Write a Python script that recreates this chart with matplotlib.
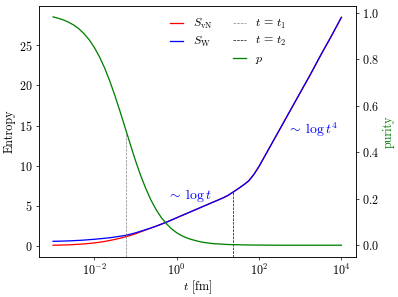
import numpy as np
import matplotlib
matplotlib.use("Agg")
import matplotlib.pyplot as plt
from matplotlib.lines import Line2D
from matplotlib.ticker import NullLocator

plt.rcParams.update({
    "font.family": "serif",
    "font.serif": ["cmr10"],
    "mathtext.fontset": "cm",
    "axes.formatter.use_mathtext": True,
    "font.size": 14,
})

# log10 of time in fm
log_t = [-3, -2.875, -2.75, -2.625, -2.5, -2.375, -2.25, -2.125, -2,
         -1.875, -1.75, -1.625, -1.5, -1.375, -1.25, -1.125, -1,
         -0.875, -0.75, -0.625, -0.5, -0.375, -0.25, -0.125, 0,
         0.125, 0.25, 0.375, 0.5, 0.625, 0.75, 0.875, 1,
         1.125, 1.25, 1.375, 1.5, 1.625, 1.75, 1.875, 2,
         2.25, 2.5, 2.75, 3, 3.25, 3.5, 3.75, 4]
S_W = [0.57, 0.58, 0.60, 0.62, 0.65, 0.68, 0.72, 0.77, 0.82,
       0.88, 0.94, 1.01, 1.10, 1.20, 1.30, 1.45, 1.62,
       1.82, 2.02, 2.23, 2.45, 2.70, 2.95, 3.22, 3.50,
       3.78, 4.05, 4.33, 4.60, 4.88, 5.15, 5.43, 5.70,
       5.98, 6.30, 6.72, 7.15, 7.60, 8.10, 8.90, 9.90,
       12.2, 14.5, 16.8, 19.1, 21.4, 23.8, 26.1, 28.5]
S_vN = [0.08, 0.09, 0.11, 0.13, 0.16, 0.20, 0.24, 0.30, 0.37,
        0.45, 0.55, 0.67, 0.80, 0.95, 1.11, 1.30, 1.50,
        1.74, 1.98, 2.21, 2.45, 2.70, 2.95, 3.22, 3.50,
        3.78, 4.05, 4.33, 4.60, 4.88, 5.15, 5.43, 5.70,
        5.98, 6.30, 6.72, 7.15, 7.60, 8.10, 8.90, 9.90,
        12.2, 14.5, 16.8, 19.1, 21.4, 23.8, 26.1, 28.5]
purity = [0.983, 0.977, 0.970, 0.960, 0.948, 0.932, 0.911, 0.885, 0.852,
          0.812, 0.764, 0.708, 0.645, 0.577, 0.506, 0.435, 0.365,
          0.301, 0.245, 0.195, 0.154, 0.120, 0.093, 0.071, 0.054,
          0.041, 0.031, 0.024, 0.018, 0.013, 0.010, 0.007, 0.0057,
          0.0043, 0.003, 0.0025, 0.002, 0.0015, 0.001, 0.0008, 0.0006,
          0.0003, 0, 0, 0, 0, 0, 0, 0]

t1, p_t1 = 10**-1.225, 0.485
t2, S_t2 = 10**1.36, 6.7

t = 10.0 ** np.array(log_t)

fig = plt.figure(figsize=(398 / 62, 297 / 62), dpi=62)
fig.subplots_adjust(left=0.097, right=0.894, top=0.98, bottom=0.136)
ax1 = fig.add_subplot(111)
ax2 = ax1.twinx()

ax1.set_xscale("log")
l1, = ax1.plot(t, S_vN, color="red")
l2, = ax1.plot(t, S_W, color="blue")
l3, = ax2.plot(t, purity, color="green")

ylo1, yhi1 = -1.34, 29.92
ylo2, yhi2 = -0.049, 1.03
ax1.set_ylim(ylo1, yhi1)
ax2.set_ylim(ylo2, yhi2)

v1 = ax2.vlines(t1, ylo2, p_t1, colors="gray", linestyles="--", linewidth=0.8)
v2 = ax1.vlines(t2, ylo1, S_t2, colors="black", linestyles="--", linewidth=0.8)

ax1.text(10**-0.228, 5.86, r"$\sim\; \log t$", color="blue", fontsize=16,
         va="baseline")
ax1.text(10**2.684, 13.97, r"$\sim\; \log t^4$", color="blue", fontsize=16,
         va="baseline")

ax1.xaxis.set_minor_locator(NullLocator())
ax1.set_xticks([1e-2, 1e0, 1e2, 1e4])
ax1.set_xlabel(r"$t$ [fm]", labelpad=1.5)
ax1.set_ylabel("Entropy")
ax2.set_ylabel("purity", color="green")

blank = Line2D([], [], alpha=0)
ax2.legend([l1, l2, blank, v1, v2, l3],
           [r"$S_{\rm vN}$", r"$S_{\rm W}$", "",
            r"$t\,=\,t_1$", r"$t\,=\,t_2$", r"$p$"],
           ncol=2, frameon=False, handlelength=1.1, handletextpad=0.8,
           columnspacing=1.67, labelspacing=0.35, borderaxespad=0,
           loc="upper left", bbox_to_anchor=(0.398, 0.975))

fig.savefig("out.png", dpi=62)
